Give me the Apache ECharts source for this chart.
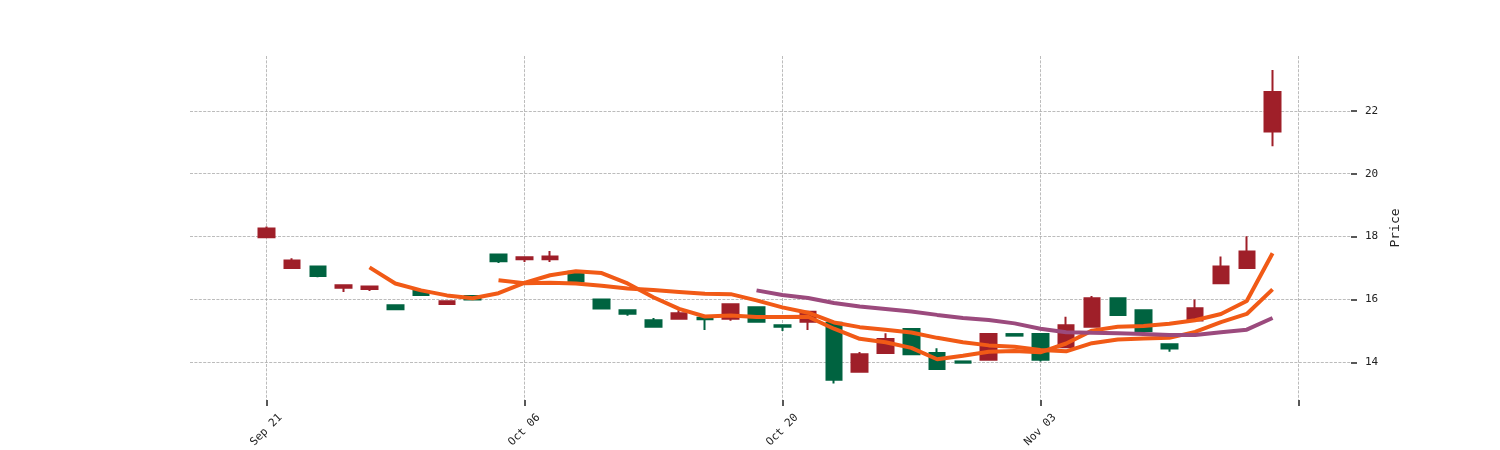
<!DOCTYPE html>
<html>
<head>
<meta charset="utf-8">
<script src="https://cdn.jsdelivr.net/npm/echarts@6/dist/echarts.min.js"></script>
<style>
html,body{margin:0;padding:0;background:#fff;}
#chart{width:1500px;height:450px;}
</style>
</head>
<body>
<div id="chart"></div>
<script>
// ---- data ----
const tickIndex  = [0, 10, 20, 30];
const tickLabels = ['Sep 21', 'Oct 06', 'Oct 20', 'Nov 03'];
const extraTick  = [40];
const priceTicks = [14, 16, 18, 20, 22];

const opens  = [17.98,17.00,17.05,16.37,16.33,15.82,16.27,15.86,16.11,17.43,
                17.28,17.28,16.88,16.00,15.66,15.34,15.39,15.42,15.39,15.75,
                15.18,15.29,15.26,13.70,14.30,15.06,14.30,14.03,14.08,14.90,
                14.90,14.48,15.13,16.04,15.66,14.58,15.33,16.52,17.00,21.34];
const closes = [18.26,17.24,16.75,16.45,16.41,15.69,16.14,15.94,16.00,17.22,
                17.34,17.37,16.57,15.71,15.55,15.13,15.56,15.37,15.85,15.29,
                15.13,15.61,13.45,14.26,14.74,14.26,13.79,13.99,14.90,14.85,
                14.08,15.18,16.04,15.51,15.00,14.44,15.72,17.05,17.53,22.60];
const lows   = [17.98,17.00,16.71,16.24,16.27,15.67,16.14,15.86,16.00,17.16,
                17.19,17.19,16.57,15.71,15.48,15.13,15.39,15.03,15.32,15.29,
                15.00,15.03,13.33,13.70,14.30,14.26,13.79,13.99,14.08,14.85,
                14.03,14.48,15.13,15.51,15.00,14.34,15.33,16.52,17.00,20.87];
const highs  = [18.32,17.31,17.05,16.45,16.41,15.82,16.27,15.94,16.11,17.43,
                17.34,17.54,16.88,16.00,15.66,15.41,15.66,15.42,15.85,15.75,
                15.18,15.61,15.26,14.33,14.93,15.06,14.45,14.03,14.90,14.90,
                14.90,15.45,16.11,16.04,15.66,14.58,16.00,17.37,18.01,23.30];

const ma5  = [null,null,null,null,17.02,16.51,16.29,16.13,16.04,16.20,
              16.53,16.77,16.90,16.84,16.51,16.07,15.70,15.46,15.49,15.44,
              15.44,15.45,15.07,14.75,14.64,14.46,14.10,14.21,14.34,14.36,
              14.32,14.60,15.01,15.13,15.16,15.23,15.34,15.54,15.95,17.47];
const ma10 = [null,null,null,null,null,null,null,null,null,16.61,
              16.52,16.53,16.51,16.44,16.35,16.30,16.24,16.18,16.17,15.97,
              15.75,15.58,15.27,15.12,15.04,14.95,14.78,14.64,14.54,14.50,
              14.39,14.35,14.61,14.73,14.76,14.78,14.97,15.28,15.54,16.32];
const ma20 = [null,null,null,null,null,null,null,null,null,null,
              null,null,null,null,null,null,null,null,null,16.29,
              16.14,16.05,15.89,15.78,15.70,15.62,15.51,15.41,15.35,15.24,
              15.07,14.96,14.94,14.93,14.90,14.87,14.87,14.96,15.04,15.41];

// ---- build ----
const candleData = opens.map((o, i) => [i, o, closes[i], lows[i], highs[i]]);
const toLine = arr => arr.map((v, i) => [i, v]).filter(p => p[1] !== null);

const UP = '#9f1f29', DOWN = '#006340';
const gridLine = {show: true, lineStyle: {color: '#ababab', width: 0.8, type: [3, 1.4]}};
const labelFont = 'DejaVu Sans Mono';

const chart = echarts.init(document.getElementById('chart'), null, {renderer: 'canvas'});
chart.setOption({
  animation: false,
  backgroundColor: '#ffffff',
  grid: {left: 190, right: 149, top: 56, bottom: 49, containLabel: false},
  xAxis: {
    type: 'value',
    min: -2.957, max: 42.04,
    axisLine: {show: false, onZero: false},
    axisTick: {show: true, length: 6, lineStyle: {color: '#222', width: 1.5},
               customValues: tickIndex.concat(extraTick)},
    axisLabel: {
      customValues: tickIndex,
      rotate: 45, margin: 30, align: 'center', verticalAlign: 'middle',
      fontFamily: labelFont, fontSize: 11, color: '#222',
      formatter: v => { const k = tickIndex.indexOf(Math.round(v)); return k >= 0 ? tickLabels[k] : ''; }
    },
    splitLine: gridLine
  },
  yAxis: {
    type: 'value',
    position: 'right',
    min: 12.805, max: 23.744,
    scale: true,
    name: 'Price',
    nameLocation: 'middle',
    nameGap: 30,
    nameTextStyle: {fontFamily: labelFont, fontSize: 13, color: '#222'},
    axisLine: {show: false, onZero: false},
    axisTick: {show: true, length: 6, lineStyle: {color: '#222', width: 1.5}, customValues: priceTicks},
    axisLabel: {customValues: priceTicks, margin: 14, fontFamily: labelFont, fontSize: 11, color: '#222'},
    splitLine: gridLine
  },
  series: [
    {
      type: 'candlestick',
      data: candleData,
      encode: {x: 0, y: [1, 2, 3, 4]},
      barWidth: 16,
      itemStyle: {color: UP, color0: DOWN, borderColor: UP, borderColor0: DOWN, borderWidth: 2}
    },
    {type: 'line', data: toLine(ma5), showSymbol: false, symbol: 'none', z: 3,
     lineStyle: {color: '#f15a16', width: 4}},
    {type: 'line', data: toLine(ma10), showSymbol: false, symbol: 'none', z: 3,
     lineStyle: {color: '#f15a16', width: 4}},
    {type: 'line', data: toLine(ma20), showSymbol: false, symbol: 'none', z: 3,
     lineStyle: {color: '#9b4a7d', width: 4}}
  ]
});
</script>
</body>
</html>
